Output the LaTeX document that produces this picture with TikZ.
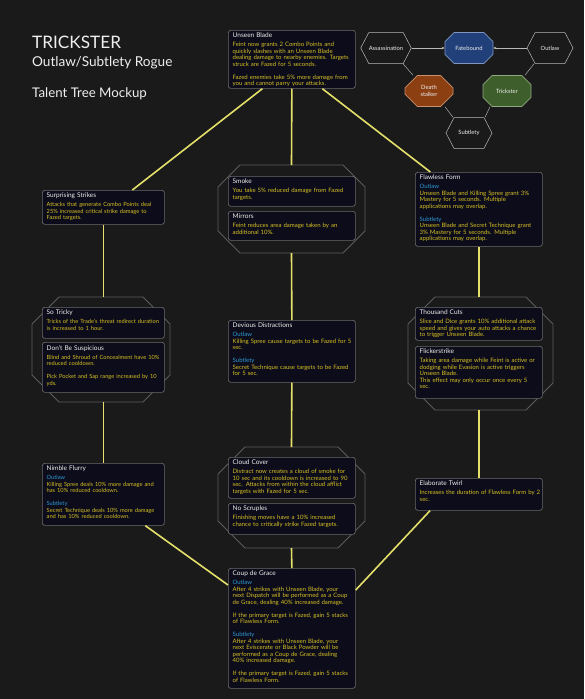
\documentclass[tikz,border=0pt]{standalone}
\usepackage{fontspec}
\setmainfont{Lato}
\usetikzlibrary{shapes.misc,shapes.symbols,arrows.meta,calc}
\definecolor{bg}{HTML}{1A1A1A}
\definecolor{boxfill}{HTML}{0C0C1A}
\definecolor{boxline}{HTML}{6A6A6A}
\definecolor{octline}{HTML}{5C5C5C}
\definecolor{conn}{HTML}{E4E06A}
\definecolor{gold}{HTML}{D6C024}
\definecolor{lblue}{HTML}{2E9BD6}
\definecolor{ttl}{HTML}{EEEEEE}
\definecolor{fateblue}{HTML}{213F78}
\definecolor{fateline}{HTML}{7F95C0}
\definecolor{deathor}{HTML}{8C4012}
\definecolor{deathline}{HTML}{C89070}
\definecolor{trickgr}{HTML}{3E5E2B}
\definecolor{trickline}{HTML}{8FA880}
\definecolor{hexline}{HTML}{B8B8B8}
\newcommand\ttlf{\fontsize{6.5}{6.5}\selectfont\color{ttl}}
\newcommand\bdyf{\fontsize{6.0}{6.5}\selectfont\color{gold}}
\newcommand\bdyfs{\fontsize{5.7}{6.5}\selectfont\color{gold}}
\newcommand\talenttitle[1]{\ttlf #1\\[2.5pt]\bdyf}
\newcommand\talenttitles[1]{\ttlf #1\\[2.5pt]\bdyfs}
\newcommand\spec[1]{\color{lblue}#1\\\color{gold}}
\newcommand\octframe[6]{%
  \draw[octf] (#2+#6,#3) -- (#4-#6,#3) -- (#4,#3+#6) -- (#4,#5-#6) -- (#4-#6,#5) -- (#2+#6,#5) -- (#2,#5-#6) -- (#2,#3+#6) -- cycle;
  \coordinate (#1-n) at ({(#2+#4)/2},#3);
  \coordinate (#1-s) at ({(#2+#4)/2},#5);}
\tikzset{
  tbox/.style={draw=boxline, fill=boxfill, rounded corners=2.5pt, line width=0.7pt, inner sep=0pt, anchor=north west},
  tbtext/.style={anchor=north west, inner sep=0pt, text width=140pt, align=left, font=\bdyf},
  octf/.style={draw=octline, line width=0.8pt},
  conn/.style={draw=conn, line width=1.6pt},
  sighex/.style={signal, signal to=east and west, signal pointer angle=125, minimum width=46pt, minimum height=31pt, inner sep=0pt, draw=hexline, fill=bg, line width=0.5pt, font=\fontsize{5.8}{6.5}\selectfont, text=ttl},
  smoct/.style={chamfered rectangle, chamfered rectangle xsep=7pt, chamfered rectangle ysep=7pt, minimum width=48pt, minimum height=31pt, inner sep=0pt, line width=0.6pt, font=\fontsize{5.8}{6.5}\selectfont, text=ttl, align=center},
  hexlink/.style={draw=hexline, line width=0.45pt},
  hexarrow/.style={hexlink, -{Stealth[length=3pt,width=2.6pt]}},
  titletxt/.style={anchor=base west, inner sep=0pt, text=ttl}
}
\begin{document}
\begin{tikzpicture}[x=1pt,y=-1pt]
\fill[bg] (0,0) rectangle (584,699);
\useasboundingbox (0,0) rectangle (584,699);

% titles
\node[titletxt, font=\fontsize{17.2}{18}\selectfont] (title) at (32,48) {TRICKSTER};
\node[titletxt, font=\fontsize{13.6}{15}\selectfont] (subtitle) at (32,66) {Outlaw/Subtlety Rogue};
\node[titletxt, font=\fontsize{13.3}{15}\selectfont] (mockup) at (32,97) {Talent Tree Mockup};

% small spec diagram
\node[sighex] (ass) at (386,48) {Assassination};
\node[smoct, fill=fateblue, draw=fateline] (fate) at (469,48) {Fatebound};
\node[sighex] (outl) at (550,48) {Outlaw};
\node[smoct, fill=deathor, draw=deathline] (ds) at (429,91) {Death\\stalker};
\node[smoct, fill=trickgr, draw=trickline] (tr) at (507,91) {Trickster};
\node[sighex] (subt) at (469,133) {Subtlety};
\draw[hexarrow] (ass.east) -- (fate.west);
\draw[hexarrow] (outl.west) -- (fate.east);
\draw[hexlink] ($(ass.south)+(17,0)$) -- ($(ds.north)+(-16,0)$);
\draw[hexlink] ($(outl.south)+(-16,0)$) -- ($(tr.north)+(18,0)$);
\draw[hexlink] ($(ds.south)+(16,0)$) -- ($(subt.north)+(-16,0)$);
\draw[hexlink] ($(tr.south)+(-17,0)$) -- ($(subt.north)+(16,0)$);

% octagon frames
\octframe{hxa}{218}{165}{365}{253}{22}
\octframe{hxb}{32}{297}{170}{402}{27}
\octframe{hxc}{408}{297}{553}{410}{27}
\octframe{hxd}{218}{447}{365}{548}{27}

% talent boxes
\node[tbox, minimum width=127pt, minimum height=58pt] (ub) at (228,30) {};
\node[tbtext] (ub-t) at ($(ub.north west)+(4.5,3)$) {\talenttitle{Unseen Blade}Feint now grants 2 Combo Points and\\quickly slashes with an Unseen Blade\\dealing damage to nearby enemies. Targets\\struck are Fazed for 5 seconds.\\[6.5pt]Fazed enemies take 5\% more damage from\\you and cannot parry your attacks.};

\node[tbox, minimum width=122pt, minimum height=34pt] (ss) at (42,190) {};
\node[tbtext] (ss-t) at ($(ss.north west)+(4.5,3)$) {\talenttitles{Surprising Strikes}Attacks that generate Combo Points deal\\25\% increased critical strike damage to\\Fazed targets.};

\node[tbox, minimum width=127pt, minimum height=30pt] (sm) at (228,176) {};
\node[tbtext] (sm-t) at ($(sm.north west)+(4.5,3)$) {\talenttitle{Smoke}You take 5\% reduced damage from Fazed\\targets.};

\node[tbox, minimum width=127pt, minimum height=29pt] (mi) at (228,211) {};
\node[tbtext] (mi-t) at ($(mi.north west)+(4.5,3)$) {\talenttitle{Mirrors}Feint reduces area damage taken by an\\additional 10\%.};

\node[tbox, minimum width=127pt, minimum height=74pt] (ff) at (415,172) {};
\node[tbtext] (ff-t) at ($(ff.north west)+(4.5,3)$) {\talenttitle{Flawless Form}\spec{Outlaw}Unseen Blade and Killing Spree grant 3\%\\Mastery for 5 seconds. Multiple\\applications may overlap.\\[6.5pt]\spec{Subtlety}Unseen Blade and Secret Technique grant\\3\% Mastery for 5 seconds. Multiple\\applications may overlap.};

\node[tbox, minimum width=122pt, minimum height=31pt] (st) at (42,307) {};
\node[tbtext] (st-t) at ($(st.north west)+(4.5,3)$) {\talenttitles{So Tricky}Tricks of the Trade's threat redirect duration\\is increased to 1 hour.};

\node[tbox, minimum width=122pt, minimum height=50pt] (dbs) at (42,342) {};
\node[tbtext] (dbs-t) at ($(dbs.north west)+(4.5,3)$) {\talenttitles{Don't Be Suspicious}Blind and Shroud of Concealment have 10\%\\reduced cooldown.\\[6.5pt]Pick Pocket and Sap range increased by 10\\yds.};

\node[tbox, minimum width=127pt, minimum height=62pt] (dd) at (228,320) {};
\node[tbtext] (dd-t) at ($(dd.north west)+(4.5,3)$) {\talenttitle{Devious Distractions}\spec{Outlaw}Killing Spree cause targets to be Fazed for 5\\sec.\\[6.5pt]\spec{Subtlety}Secret Technique cause targets to be Fazed\\for 5 sec.};

\node[tbox, minimum width=127pt, minimum height=33pt] (tc) at (415,307) {};
\node[tbtext] (tc-t) at ($(tc.north west)+(4.5,3)$) {\talenttitle{Thousand Cuts}Slice and Dice grants 10\% additional attack\\speed and gives your auto attacks a chance\\to trigger Unseen Blade.};

\node[tbox, minimum width=127pt, minimum height=52pt] (fl) at (415,346) {};
\node[tbtext] (fl-t) at ($(fl.north west)+(4.5,3)$) {\talenttitle{Flickerstrike}Taking area damage while Feint is active or\\dodging while Evasion is active triggers\\Unseen Blade.\\This effect may only occur once every 5\\sec.};

\node[tbox, minimum width=122pt, minimum height=62pt] (nf) at (42,463) {};
\node[tbtext] (nf-t) at ($(nf.north west)+(4.5,3)$) {\talenttitles{Nimble Flurry}\spec{Outlaw}Killing Spree deals 10\% more damage and\\has 10\% reduced cooldown.\\[6.5pt]\spec{Subtlety}Secret Technique deals 10\% more damage\\and has 10\% reduced cooldown.};

\node[tbox, minimum width=127pt, minimum height=41pt] (cc) at (228,457) {};
\node[tbtext] (cc-t) at ($(cc.north west)+(4.5,3)$) {\talenttitle{Cloud Cover}Distract now creates a cloud of smoke for\\10 sec and its cooldown is increased to 90\\sec. Attacks from within the cloud afflict\\targets with Fazed for 5 sec.};

\node[tbox, minimum width=127pt, minimum height=31pt] (ns) at (228,503) {};
\node[tbtext] (ns-t) at ($(ns.north west)+(4.5,3)$) {\talenttitle{No Scruples}Finishing moves have a 10\% increased\\chance to critically strike Fazed targets.};

\node[tbox, minimum width=127pt, minimum height=32pt] (et) at (415,478) {};
\node[tbtext] (et-t) at ($(et.north west)+(4.5,3)$) {\talenttitle{Elaborate Twirl}Increases the duration of Flawless Form by 2\\sec.};

\node[tbox, minimum width=127pt, minimum height=120pt] (cg) at (228,568) {};
\node[tbtext] (cg-t) at ($(cg.north west)+(4.5,3)$) {\talenttitle{Coup de Grace}\spec{Outlaw}After 4 strikes with Unseen Blade, your\\next Dispatch will be performed as a Coup\\de Grace, dealing 40\% increased damage.\\[6.5pt]If the primary target is Fazed, gain 5 stacks\\of Flawless Form.\\[6.5pt]\spec{Subtlety}After 4 strikes with Unseen Blade, your\\next Eviscerate or Black Powder will be\\performed as a Coup de Grace, dealing\\40\% increased damage.\\[6.5pt]If the primary target is Fazed, gain 5 stacks\\of Flawless Form.};

% connectors
\draw[conn] ($(ub.south)+(-29.5,0)$) -- ($(ss.north)+(29,0)$);
\draw[conn] (ub.south) -- (hxa-n);
\draw[conn] ($(ub.south)+(30.5,0)$) -- ($(ff.north)+(-48.5,0)$);
\draw[conn] (ss.south) -- (ss.south |- hxb-n);
\draw[conn] (hxa-s) -- (dd.north);
\draw[conn] (ff.south) -- (ff.south |- hxc-n);
\draw[conn] (nf.north |- hxb-s) -- (nf.north);
\draw[conn] (dd.south) -- (hxd-n);
\draw[conn] (et.north |- hxc-s) -- (et.north);
\draw[conn] (hxd-s) -- (cg.north);
\draw[conn] ($(nf.south)+(42,0)$) -- ($(cg.north west)+(0,17)$);
\draw[conn] ($(et.south west)+(15,0)$) -- ($(cg.north east)+(0,22)$);
\end{tikzpicture}
\end{document}
